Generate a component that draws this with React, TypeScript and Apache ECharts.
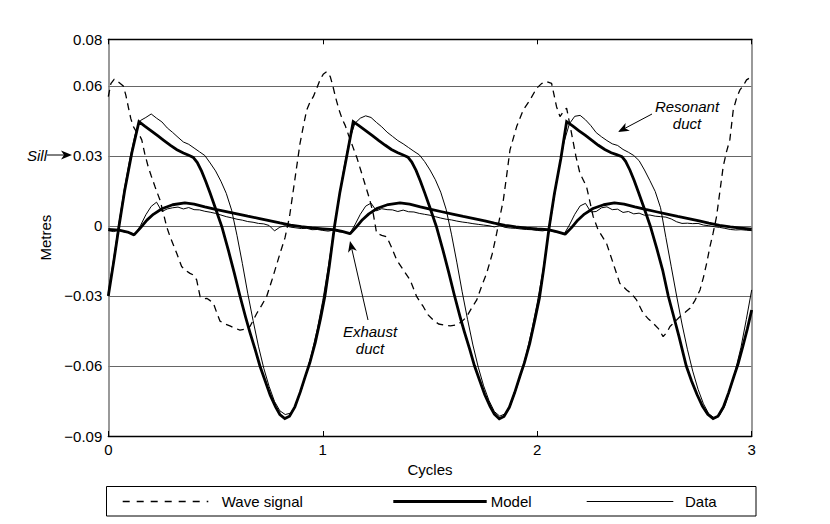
import { useEffect, useRef } from "react";
import * as echarts from "echarts";

// ---------- data ----------
const xTickValues = [0, 1, 2, 3];
const yTickValues = [-0.09, -0.06, -0.03, 0, 0.03, 0.06, 0.08];
const yTickLabels = ["\u22120.09", "\u22120.06", "\u22120.03", "0", "0.03", "0.06", "0.08"];

const legendNames = ["Wave signal", "Model", "Data"];

// Wave signal (dashed) [cycles, metres]
const waveSignal: number[][] = [
  [0, 0.0554], [0.012, 0.061], [0.028, 0.0629], [0.05, 0.0615], [0.07, 0.06], [0.082, 0.056], [0.093, 0.0511],
  [0.105, 0.046], [0.117, 0.0426], [0.13, 0.0405], [0.145, 0.039], [0.156, 0.0369], [0.17, 0.031], [0.186, 0.0254],
  [0.2, 0.0215], [0.218, 0.0168], [0.241, 0.0111], [0.258, 0.005], [0.272, -0.0003], [0.288, -0.0046], [0.303, -0.008],
  [0.319, -0.0117], [0.342, -0.0174], [0.36, -0.019], [0.381, -0.0203], [0.397, -0.021], [0.412, -0.0231], [0.428, -0.0303],
  [0.445, -0.0312], [0.459, -0.031], [0.475, -0.032], [0.49, -0.0331], [0.505, -0.037], [0.521, -0.0408], [0.545, -0.042],
  [0.567, -0.0428], [0.59, -0.0438], [0.614, -0.0446], [0.64, -0.0442], [0.661, -0.043], [0.692, -0.0375], [0.715, -0.034],
  [0.738, -0.0303], [0.762, -0.0235], [0.785, -0.0165], [0.805, -0.0105], [0.824, -0.005], [0.845, 0.004], [0.87, 0.02],
  [0.894, 0.0354], [0.91, 0.043], [0.925, 0.0497], [0.94, 0.053], [0.956, 0.0554], [0.972, 0.059], [0.987, 0.0626],
  [1.002, 0.065], [1.018, 0.0661],
  [1.035, 0.064], [1.047, 0.06], [1.06, 0.055], [1.075, 0.05], [1.09, 0.046], [1.105, 0.043], [1.12, 0.039], [1.14, 0.034],
  [1.16, 0.029], [1.18, 0.023], [1.2, 0.017], [1.22, 0.011], [1.236, 0.005], [1.251, -0.0031], [1.275, -0.004],
  [1.298, -0.0046], [1.32, -0.009], [1.345, -0.0146], [1.376, -0.0189], [1.407, -0.0231], [1.438, -0.0303], [1.469, -0.0346],
  [1.49, -0.038], [1.515, -0.0403], [1.54, -0.042], [1.562, -0.0424], [1.595, -0.0428], [1.624, -0.0424], [1.648, -0.041],
  [1.671, -0.0389], [1.695, -0.035], [1.718, -0.0317], [1.74, -0.026], [1.764, -0.0203], [1.79, -0.012], [1.811, -0.0031],
  [1.826, 0.004], [1.842, 0.0111], [1.858, 0.022], [1.873, 0.0326], [1.904, 0.0426], [1.935, 0.0497], [1.966, 0.054],
  [1.997, 0.059], [2.02, 0.061], [2.044, 0.0619], [2.067, 0.0611],
  [2.09, 0.0511], [2.106, 0.0469], [2.122, 0.049], [2.137, 0.0505], [2.16, 0.0397], [2.18, 0.03], [2.199, 0.0226],
  [2.23, 0.0168], [2.261, 0.004], [2.284, -0.0017], [2.323, -0.0074], [2.354, -0.016], [2.385, -0.0246], [2.417, -0.0274],
  [2.44, -0.029], [2.463, -0.0317], [2.494, -0.0374], [2.52, -0.04], [2.541, -0.0417], [2.565, -0.044], [2.587, -0.0474],
  [2.605, -0.0455], [2.619, -0.0431], [2.642, -0.041], [2.665, -0.0389], [2.69, -0.037], [2.712, -0.0353], [2.735, -0.032],
  [2.759, -0.0274], [2.775, -0.022], [2.79, -0.016], [2.805, -0.009], [2.82, -0.0031], [2.836, 0.004], [2.852, 0.015],
  [2.867, 0.0254], [2.883, 0.032], [2.898, 0.0369], [2.914, 0.0497], [2.93, 0.055], [2.945, 0.0583], [2.96, 0.06],
  [2.976, 0.0626], [3.0, 0.064],
];

// Resonant duct model (thick)
const resonantModel: number[][] = [
  [0, -0.03], [0.025, -0.0155], [0.05, 0.0], [0.076, 0.015], [0.11, 0.0315], [0.143, 0.0447], [0.17, 0.0428], [0.2, 0.0408],
  [0.23, 0.0387], [0.26, 0.0366], [0.29, 0.0345], [0.32, 0.0327], [0.35, 0.0313], [0.375, 0.0303], [0.396, 0.0294],
  [0.415, 0.0272], [0.435, 0.0235], [0.455, 0.019], [0.475, 0.014], [0.5, 0.0075], [0.53, -0.0005], [0.56, -0.0105],
  [0.587, -0.02], [0.614, -0.03], [0.64, -0.039], [0.66, -0.0455], [0.685, -0.053], [0.707, -0.06], [0.73, -0.066],
  [0.755, -0.0725], [0.78, -0.0775], [0.8, -0.0808], [0.823, -0.0825], [0.845, -0.0815], [0.87, -0.0775], [0.895, -0.0712],
  [0.92, -0.064], [0.94, -0.0585], [0.965, -0.05], [0.99, -0.0395], [1.01, -0.03],
  [1.03, -0.0175], [1.055, 0.0], [1.08, 0.0145], [1.11, 0.029], [1.142, 0.0447], [1.17, 0.0429], [1.2, 0.0409],
  [1.23, 0.0388], [1.26, 0.0367], [1.29, 0.0347], [1.32, 0.0328], [1.35, 0.0314], [1.375, 0.0304], [1.397, 0.0295],
  [1.415, 0.0274], [1.435, 0.0238], [1.455, 0.0193], [1.475, 0.0143], [1.5, 0.0078], [1.53, -0.0003], [1.56, -0.0102],
  [1.587, -0.0198], [1.614, -0.0298], [1.64, -0.0388], [1.66, -0.0453], [1.685, -0.0528], [1.707, -0.0598], [1.73, -0.0658],
  [1.755, -0.0722], [1.78, -0.0773], [1.8, -0.0806], [1.823, -0.0826], [1.845, -0.0816], [1.87, -0.0777], [1.895, -0.0714],
  [1.92, -0.0642], [1.94, -0.0587], [1.965, -0.0503], [1.99, -0.0398], [2.01, -0.031],
  [2.03, -0.0185], [2.055, -0.001], [2.08, 0.0138], [2.11, 0.0288], [2.137, 0.0447], [2.165, 0.0429], [2.195, 0.0408],
  [2.225, 0.0388], [2.255, 0.0367], [2.285, 0.0346], [2.315, 0.0328], [2.345, 0.0314], [2.37, 0.0306], [2.395, 0.0297],
  [2.412, 0.0277], [2.432, 0.024], [2.452, 0.0195], [2.472, 0.0145], [2.497, 0.008], [2.527, 0.0], [2.557, -0.0095],
  [2.585, -0.019], [2.611, -0.03], [2.637, -0.039], [2.66, -0.047], [2.695, -0.06], [2.72, -0.0665], [2.745, -0.0722],
  [2.77, -0.0772], [2.795, -0.0807], [2.82, -0.0825], [2.843, -0.0815], [2.868, -0.0776], [2.893, -0.0713], [2.918, -0.0642],
  [2.937, -0.059], [2.96, -0.0512], [2.98, -0.044], [3.0, -0.036],
];

// Exhaust duct model (thick)
const exhaustModel: number[][] = [
  [0, -0.0015], [0.05, -0.0018], [0.09, -0.0026], [0.12, -0.0038], [0.15, -0.0008], [0.18, 0.0025], [0.21, 0.005],
  [0.25, 0.0074], [0.3, 0.0091], [0.357, 0.0099], [0.4, 0.0094], [0.45, 0.0082], [0.5, 0.0071], [0.55, 0.0062],
  [0.6, 0.0052], [0.65, 0.0042], [0.7, 0.0033], [0.75, 0.0023], [0.8, 0.0013], [0.85, 0.0004], [0.9, -0.0003],
  [0.95, -0.0008], [1.0, -0.0012],
  [1.05, -0.0016], [1.09, -0.0023], [1.127, -0.0033], [1.155, -0.0006], [1.185, 0.0027], [1.215, 0.0052], [1.255, 0.0076],
  [1.305, 0.0092], [1.36, 0.0099], [1.405, 0.0094], [1.455, 0.0082], [1.505, 0.0071], [1.555, 0.0061], [1.605, 0.0051],
  [1.655, 0.0041], [1.705, 0.0032], [1.755, 0.0022], [1.8, 0.0012], [1.85, 0.0003], [1.9, -0.0004], [1.95, -0.0009],
  [2.0, -0.0013],
  [2.05, -0.0016], [2.09, -0.0024], [2.13, -0.0035], [2.16, -0.0007], [2.19, 0.0026], [2.22, 0.0051], [2.26, 0.0075],
  [2.31, 0.0091], [2.36, 0.0099], [2.405, 0.0094], [2.455, 0.0082], [2.505, 0.0071], [2.555, 0.0061], [2.605, 0.0051],
  [2.655, 0.0041], [2.705, 0.0032], [2.755, 0.0022], [2.8, 0.0012], [2.85, 0.0003], [2.9, -0.0004], [2.95, -0.0009],
  [3.0, -0.0014],
];

// Measured data, sampled every 0.025 cycles from 0 to 3
const dataStep = 0.025;
const resonantData: number[] = [
  -0.0285, -0.014, 0.0015, 0.016, 0.0285, 0.0392, 0.0452, 0.0465, 0.048, 0.0462, 0.0446, 0.042, 0.0401, 0.038, 0.036,
  0.035, 0.0334, 0.0318, 0.0302, 0.027, 0.0236, 0.0192, 0.014, 0.0068, -0.004, -0.016, -0.0288, -0.0405, -0.0515,
  -0.061, -0.0688, -0.0752, -0.0792, -0.0808, -0.0802, -0.0765, -0.0702, -0.0628, -0.054, -0.044, -0.032,
  -0.018, -0.003, 0.012, 0.0255, 0.037, 0.044, 0.0462, 0.0472, 0.0465, 0.0444, 0.0425, 0.0402, 0.0384, 0.0366, 0.0352,
  0.0336, 0.032, 0.0305, 0.0276, 0.024, 0.0198, 0.0145, 0.0072, -0.0035, -0.0155, -0.0282, -0.04, -0.051, -0.0605,
  -0.0685, -0.0748, -0.0795, -0.0815, -0.0805, -0.077, -0.0705, -0.0632, -0.0545, -0.0445, -0.033,
  -0.02, -0.005, 0.01, 0.024, 0.036, 0.0438, 0.047, 0.0474, 0.0455, 0.043, 0.04, 0.0382, 0.0366, 0.0352, 0.0345,
  0.0328, 0.0316, 0.0302, 0.028, 0.024, 0.0195, 0.0148, 0.0078, -0.005, -0.0175, -0.03, -0.042, -0.0528, -0.0622,
  -0.07, -0.0762, -0.0805, -0.0822, -0.0812, -0.077, -0.07, -0.0615, -0.052, -0.04, -0.0274,
];
const exhaustData: number[] = [
  -0.002, -0.0024, -0.0017, -0.0026, -0.0028, -0.0036, 0.0002, 0.0048, 0.0084, 0.0102, 0.0062, 0.0073, 0.0078, 0.0081,
  0.0073, 0.0079, 0.007, 0.0069, 0.0063, 0.0059, 0.0054, 0.0047, 0.004, 0.0035, 0.0029, 0.0025, 0.0019, 0.0016, 0.0011,
  0.0009, 0.0002, -0.0021, -0.0005, 0.0001, -0.0005, -0.0008, -0.0011, -0.001, -0.0016, -0.0015, -0.0019,
  -0.0022, -0.0018, -0.0025, -0.0027, -0.0034, 0.0005, 0.005, 0.0085, 0.0098, 0.0065, 0.0074, 0.007, 0.0069, 0.0062,
  0.0068, 0.0061, 0.006, 0.0054, 0.005, 0.0046, 0.004, 0.0034, 0.0029, 0.0026, 0.0021, 0.0017, 0.0014, 0.001, 0.0007,
  0.0004, 0.0001, -0.0004, 0.0002, -0.0006, -0.0009, -0.001, -0.0013, -0.0015, -0.0016, -0.0019,
  -0.0021, -0.0017, -0.0024, -0.0028, -0.0035, 0.0004, 0.005, 0.0086, 0.0097, 0.006, 0.0062, 0.0078, 0.0082, 0.007,
  0.0072, 0.0058, 0.0062, 0.0052, 0.0055, 0.0046, 0.0047, 0.0042, 0.004, 0.0038, 0.003, 0.0018, 0.0011, 0.0012, 0.001,
  0.0011, 0.0004, 0.0001, -0.0003, -0.0006, -0.001, -0.0015, -0.0017, -0.0016, -0.0018, -0.002,
];

// ---------- helpers ----------
const FONT = '"Liberation Sans", Arial, Helvetica, sans-serif';

function sampled(vals: number[]) {
  return vals.map((v, i) => [+(i * dataStep).toFixed(3), v]);
}

function arrow(x1: number, y1: number, x2: number, y2: number) {
  const dx = x2 - x1;
  const dy = y2 - y1;
  const L = Math.hypot(dx, dy);
  const ux = dx / L;
  const uy = dy / L;
  const nx = -uy;
  const ny = ux;
  const len = 11;
  const half = 4.5;
  const bx = x2 - ux * len;
  const by = y2 - uy * len;
  const notchX = x2 - ux * 8;
  const notchY = y2 - uy * 8;
  return [
    { type: "line", shape: { x1, y1, x2: notchX, y2: notchY }, style: { stroke: "#000", lineWidth: 1 }, z: 100 },
    {
      type: "polygon",
      shape: { points: [[x2, y2], [bx + nx * half, by + ny * half], [notchX, notchY], [bx - nx * half, by - ny * half]] },
      style: { fill: "#000" },
      z: 100,
    },
  ];
}

function label(text: string, x: number, y: number, align: string, italic: boolean) {
  return {
    type: "text",
    x,
    y,
    z: 100,
    style: {
      text,
      font: `${italic ? "italic " : ""}15px ${FONT}`,
      fill: "#000",
      textAlign: align,
      textVerticalAlign: "middle",
    },
  };
}

function fmtY(v: number) {
  let best = 0;
  for (let i = 1; i < yTickValues.length; i++) {
    if (Math.abs(yTickValues[i] - v) < Math.abs(yTickValues[best] - v)) best = i;
  }
  return Math.abs(yTickValues[best] - v) < 1e-6 ? yTickLabels[best] : "";
}

export default function App() {
  const ref = useRef<HTMLDivElement>(null);

  useEffect(() => {
    if (!ref.current) return;
    const chart = echarts.init(ref.current, null, { renderer: "svg" });

    const lineBase = { type: "line", showSymbol: false, symbol: "none", silent: true, clip: true };
    const legY = 501.5;

    const option: any = {
      animation: false,
      backgroundColor: "#fff",
      textStyle: { fontFamily: FONT, color: "#000" },
      grid: { left: 108.3, right: 78.3, top: 39.3, bottom: 88, containLabel: false },
      xAxis: [
        {
          type: "value",
          min: xTickValues[0],
          max: xTickValues[xTickValues.length - 1],
          interval: 1,
          name: "Cycles",
          nameLocation: "middle",
          nameGap: 24,
          nameTextStyle: { fontSize: 15, color: "#000", fontFamily: FONT },
          axisLine: { show: true, onZero: false, lineStyle: { color: "#000", width: 1.3 } },
          axisTick: { show: true, inside: true, length: 5, lineStyle: { color: "#000" } },
          axisLabel: { fontSize: 15, color: "#000", margin: 6, fontFamily: FONT },
          splitLine: { show: false },
        },
        {
          type: "value",
          position: "top",
          min: 0,
          max: 3,
          interval: 1,
          axisLine: { show: true, onZero: false, lineStyle: { color: "#000", width: 1.3 } },
          axisTick: { show: true, inside: true, length: 5, lineStyle: { color: "#000" } },
          axisLabel: { show: false },
          splitLine: { show: false },
        },
      ],
      yAxis: [
        {
          type: "value",
          min: -0.09,
          max: 0.08,
          interval: 0.03,
          name: "Metres",
          nameLocation: "middle",
          nameGap: 53,
          nameTextStyle: { fontSize: 15, color: "#000", fontFamily: FONT },
          axisLine: { show: true, onZero: false, lineStyle: { color: "#808080", width: 1.6 } },
          axisTick: { show: false },
          axisLabel: { fontSize: 15, color: "#000", margin: 6, fontFamily: FONT, formatter: fmtY },
          splitLine: { show: true, lineStyle: { color: "#666", width: 1 } },
        },
        {
          type: "value",
          position: "right",
          min: -0.09,
          max: 0.08,
          axisLine: { show: true, onZero: false, lineStyle: { color: "#808080", width: 1.6 } },
          axisTick: { show: false },
          axisLabel: { show: false },
          splitLine: { show: false },
        },
      ],
      series: [
        {
          ...lineBase,
          name: legendNames[0],
          data: waveSignal,
          lineStyle: { color: "#000", width: 1.3, type: [7, 5] },
        },
        {
          ...lineBase,
          name: legendNames[2] + " (resonant)",
          data: sampled(resonantData),
          lineStyle: { color: "#000", width: 1 },
        },
        {
          ...lineBase,
          name: legendNames[2] + " (exhaust)",
          data: sampled(exhaustData),
          lineStyle: { color: "#000", width: 1 },
        },
        {
          ...lineBase,
          name: legendNames[1] + " (resonant)",
          data: resonantModel,
          lineStyle: { color: "#000", width: 2.8, join: "miter" },
        },
        {
          ...lineBase,
          name: legendNames[1] + " (exhaust)",
          data: exhaustModel,
          lineStyle: { color: "#000", width: 2.8 },
        },
      ],
      graphic: [
        // annotations
        label("Sill", 47, 155, "right", true),
        ...arrow(47, 155, 72, 155),
        label("Resonant", 687, 106, "center", true),
        label("duct", 687, 123, "center", true),
        ...arrow(652, 114, 618, 132),
        label("Exhaust", 370, 331, "center", true),
        label("duct", 370, 348, "center", true),
        ...arrow(368, 320, 350, 241),
        // legend box
        {
          type: "rect",
          z: 100,
          shape: { x: 106.5, y: 486.5, width: 649.5, height: 29.5 },
          style: { fill: "rgba(0,0,0,0)", stroke: "#000", lineWidth: 1 },
        },
        {
          type: "line",
          z: 100,
          shape: { x1: 122.7, y1: legY, x2: 208.3, y2: legY },
          style: { stroke: "#000", lineWidth: 1.3, lineDash: [7, 7] },
        },
        label(legendNames[0], 221.7, legY, "left", false),
        {
          type: "line",
          z: 100,
          shape: { x1: 393.3, y1: legY, x2: 486.7, y2: legY },
          style: { stroke: "#000", lineWidth: 2.8 },
        },
        label(legendNames[1], 490.7, legY, "left", false),
        {
          type: "line",
          z: 100,
          shape: { x1: 586.7, y1: legY, x2: 673.3, y2: legY },
          style: { stroke: "#000", lineWidth: 1 },
        },
        label(legendNames[2], 685, legY, "left", false),
      ],
    };

    chart.setOption(option);
    return () => chart.dispose();
  }, []);

  return (
    <div
      ref={ref}
      style={{ position: "fixed", left: 0, top: 0, width: 830, height: 524, background: "#fff" }}
    />
  );
}
